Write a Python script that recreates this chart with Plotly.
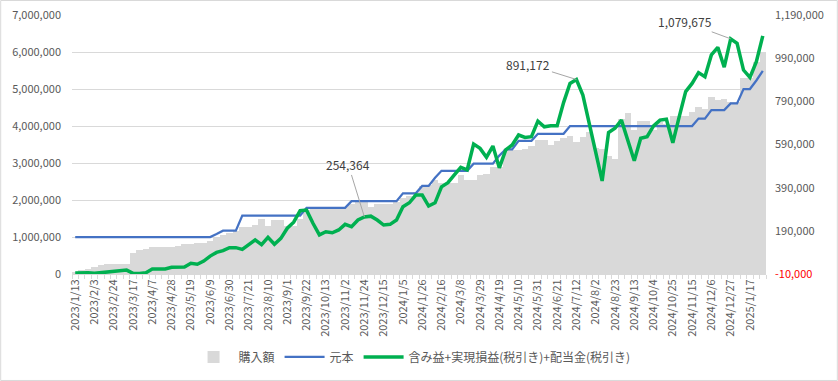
import pandas as pd
import plotly.graph_objects as go

# ---- categories: weekly (Friday) dates, holiday-adjusted ----
_fridays = pd.date_range("2023-01-13", periods=108, freq="7D")
_holiday_shift = {
    "2023-05-05": "2023-05-02",
    "2023-08-11": "2023-08-10",
    "2023-11-03": "2023-11-02",
    "2024-02-23": "2024-02-22",
    "2024-05-03": "2024-05-02",
    "2025-01-03": "2024-12-30",
}
dates = []
for d in _fridays:
    s = d.strftime("%Y-%m-%d")
    if s in _holiday_shift:
        d = pd.Timestamp(_holiday_shift[s])
    dates.append(f"{d.year}/{d.month}/{d.day}")

# ---- series values ----
purchase = [
    50000, 120000, 130000, 190000, 240000, 270000, 280000, 280000, 270000, 560000,
    650000, 680000, 720000, 720000, 720000, 740000, 760000, 810000, 810000, 830000,
    850000, 900000, 990000, 1050000, 1120000, 1150000, 1260000, 1260000, 1320000, 1500000,
    1300000, 1450000, 1450000, 1300000, 1300000, 1500000, 1740000, 1790000, 1790000, 1790000,
    1790000, 1790000, 1820000, 1900000, 1950000, 1950000, 1800000, 1900000, 1900000, 1880000,
    1950000, 2050000, 2100000, 2220000, 2380000, 2400000, 2540000, 2450000, 2450000, 2470000,
    2680000, 2540000, 2550000, 2680000, 2700000, 2880000, 2900000, 3370000, 3350000, 3350000,
    3380000, 3450000, 3620000, 3620000, 3500000, 3600000, 3680000, 3740000, 3580000, 3690000,
    3830000, 3400000, 3380000, 3190000, 3100000, 4200000, 4340000, 3890000, 4130000, 4130000,
    3900000, 4100000, 4050000, 4270000, 4270000, 4270000, 4390000, 4520000, 4450000, 4780000,
    4700000, 4720000, 4660000, 4660000, 5310000, 5310000, 5740000, 5990000,
]

principal = (
    [1000000] * 22 + [1080000] + [1170000] * 3 + [1580000] * 10 + [1790000] * 7
    + [1970000] * 8 + [2180000] * 3 + [2380000] * 2 + [2600000] + [2790000] * 5
    + [2980000] * 4 + [3200000] + [3370000] * 2 + [3600000] * 3 + [3790000] * 5
    + [4000000] * 20 + [4200000] * 2 + [4430000] * 3 + [4610000] * 2 + [5000000] * 2
    + [5230000, 5490000]
)

profit = [
    -5000, -4000, -4000, -7000, -4000, 0, 3000, 5000, 8000, -7000,
    -8000, -4000, 13000, 13000, 13000, 21000, 22000, 22000, 40000, 35000,
    50000, 73000, 90000, 98000, 112000, 112000, 104000, 128000, 148000, 126000,
    160000, 128000, 155000, 202000, 230000, 283000, 286000, 225000, 171000, 186000,
    181000, 194000, 220000, 209000, 240000, 254364, 258000, 240000, 217000, 220000,
    240000, 302000, 320000, 356000, 356000, 305000, 320000, 394000, 413000, 449000,
    484000, 472000, 592000, 572000, 531000, 583000, 482000, 565000, 588000, 634000,
    623000, 626000, 698000, 672000, 677000, 677000, 784000, 873000, 891172, 819000,
    688000, 549000, 421000, 645000, 665000, 703000, 603000, 515000, 619000, 626000,
    676000, 703000, 707000, 598000, 719000, 835000, 873000, 923000, 904000, 1005000,
    1040000, 948000, 1079675, 1059000, 935000, 901000, 974000, 1093000,
]

left_ticks = [0, 1000000, 2000000, 3000000, 4000000, 5000000, 6000000, 7000000]
right_ticks = [-10000, 190000, 390000, 590000, 790000, 990000, 1190000]
labeled_points = [45, 78, 102]

FONT = "Noto Sans CJK JP, Noto Sans, sans-serif"
TXT = "#595959"

fig = go.Figure()
fig.add_bar(x=dates, y=purchase, name="購入額", marker=dict(color="#D9D9D9", line=dict(width=0)),
            yaxis="y")
fig.add_scatter(x=dates, y=principal, name="元本", mode="lines",
                line=dict(color="#4472C4", width=2.25), yaxis="y")
fig.add_scatter(x=dates, y=profit, name="含み益+実現損益(税引き)+配当金(税引き)", mode="lines",
                line=dict(color="#00B050", width=3.5), yaxis="y2")

offsets = {45: (-16, -52), 78: (-48, -15), 102: (-46, -17)}
for i in labeled_points:
    ax, ay = offsets[i]
    fig.add_annotation(x=dates[i], y=profit[i], xref="x", yref="y2",
                       text=f"{profit[i]:,}", showarrow=True, arrowhead=0,
                       arrowwidth=1, arrowcolor="#A6A6A6", ax=ax, ay=ay,
                       font=dict(size=12, color="#404040", family=FONT))

def fmt(v):
    s = f"{v:,}"
    if v < 0:
        return f'<span style="color:#FF0000">{s}</span>'
    return s

fig.update_layout(
    width=838, height=381,
    margin=dict(l=72, r=72, t=15, b=107, autoexpand=False),
    paper_bgcolor="white", plot_bgcolor="white",
    font=dict(family=FONT, size=11, color=TXT),
    bargap=0,
    showlegend=True,
    legend=dict(orientation="h", x=0.49, xanchor="center", y=-0.32, yanchor="middle",
                font=dict(size=12, color=TXT), itemwidth=40, traceorder="normal"),
    xaxis=dict(type="category", tickmode="linear", tick0=0, dtick=1, ticklabelstep=3,
               tickangle=-90, ticks="outside", ticklen=4, tickcolor="#D9D9D9",
               tickson="boundaries", showline=True, linecolor="#D9D9D9",
               showgrid=False, tickfont=dict(size=11, color=TXT), automargin=False,
               range=[-0.5, len(dates) - 0.5]),
    yaxis=dict(range=[0, 7000000], tickvals=left_ticks, automargin=False,
               ticktext=[fmt(v) for v in left_ticks], showgrid=True,
               gridcolor="#D9D9D9", gridwidth=1, zeroline=False, showline=False,
               tickfont=dict(size=11, color=TXT), ticklabelstandoff=10),
    yaxis2=dict(range=[-10000, 1190000], tickvals=right_ticks, automargin=False,
                ticktext=[fmt(v) for v in right_ticks], overlaying="y", side="right",
                showgrid=False, zeroline=False, showline=False,
                tickfont=dict(size=11, color=TXT), ticklabelstandoff=8),
)

# chart-area border
fig.add_shape(type="rect", xref="paper", yref="paper",
              x0=-72 / 694 + 0.001, x1=1 + 72 / 694 - 0.001,
              y0=-107 / 259 + 0.002, y1=1 + 15 / 259 - 0.002,
              line=dict(color="#D9D9D9", width=1), layer="below")

fig.write_html("out.html", config={"displayModeBar": False},
               post_script="document.body.style.margin='0';document.body.style.overflow='hidden';")
